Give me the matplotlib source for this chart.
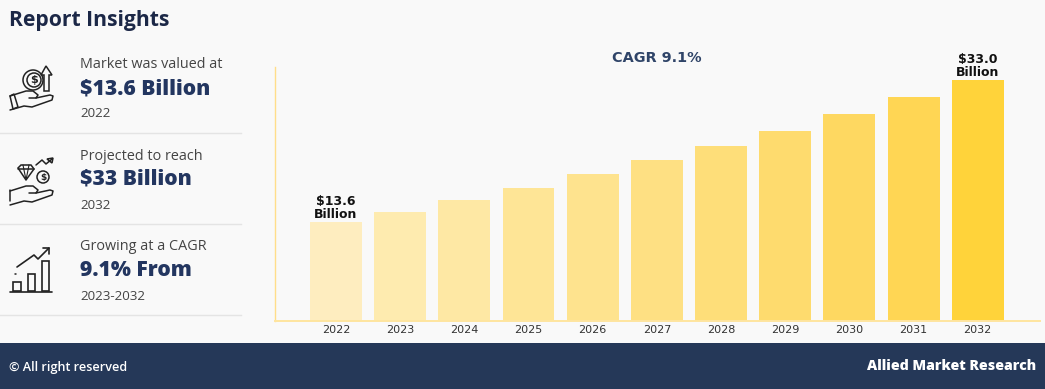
import matplotlib as mpl
mpl.use('Agg')
import matplotlib.pyplot as plt
from matplotlib.patches import Circle, Rectangle, Polygon

years = ['2022', '2023', '2024', '2025', '2026', '2027', '2028', '2029', '2030', '2031', '2032']
values = [13.6, 14.9, 16.6, 18.2, 20.1, 22.1, 24.0, 26.0, 28.4, 30.7, 33.0]
bar_colors = ['#FEEDBF', '#FEEBAF', '#FEE8A4', '#FEE596', '#FEE38E', '#FEE083',
              '#FEDE79', '#FEDB6E', '#FED861', '#FFD654', '#FFD33A']
bar_labels = {0: '$13.6\nBillion', 10: '$33.0\nBillion'}

insight_top = ['Market was valued at', 'Projected to reach', 'Growing at a CAGR']
insight_mid = ['$13.6 Billion', '$33 Billion', '9.1% From']
insight_low = ['2022', '2032', '2023-2032']

BG = '#F9F9F9'
NAVY = '#253858'
UI_FONT = 'Open Sans'

fig = plt.figure(figsize=(10.45, 3.89), dpi=100, facecolor=BG)

# overlay in pixel coords for the panel, footer and icons
ov = fig.add_axes([0, 0, 1, 1])
ov.set_xlim(0, 1045)
ov.set_ylim(389, 0)
ov.axis('off')

ov.add_patch(Rectangle((0, 343), 1045, 46, color=NAVY, lw=0))
ov.text(9, 367, '\u00a9 All right reserved', color='white', fontsize=9.1, family=UI_FONT,
        weight='semibold', va='center')
ov.text(1036, 366, 'Allied Market Research', color='white', fontsize=10.2, family=UI_FONT,
        weight='extra bold', va='center', ha='right')

ov.text(9, 20, 'Report Insights', color='#1C2847', fontsize=15.2, family=UI_FONT,
        weight='bold', va='center')

rows_y = [(64, 89, 113), (156, 179, 205), (246, 271, 296)]
for i in range(3):
    y1, y2, y3 = rows_y[i]
    ov.text(80, y1, insight_top[i], color='#444444', fontsize=10.4, family=UI_FONT, va='center')
    ov.text(80, y2, insight_mid[i], color='#233660', fontsize=15.2, family=UI_FONT,
            weight='extra bold', va='center')
    ov.text(80, y3, insight_low[i], color='#444444', fontsize=9.6, family=UI_FONT, va='center')

for y in [133, 224, 315]:
    ov.plot([0, 241], [y, y], color='#E4E4E4', lw=1)

ic = '#222222'


def line(xs, ys, lw=1.1):
    ov.plot(xs, ys, color=ic, lw=lw, solid_capstyle='round', solid_joinstyle='round')


def hand(dy):
    line([10, 26, 33, 38, 36, 29], [dy + 96, dy + 91, dy + 91, dy + 95, dy + 98, dy + 98])
    line([36, 50, 53, 52, 32, 24, 10], [dy + 98, dy + 95, dy + 96, dy + 100, dy + 107, dy + 106, dy + 110])


# icon 1: coin, arrow and hand
ov.add_patch(Polygon([(10, 96), (14, 94), (18, 107), (13, 109)], fill=False, ec=ic, lw=1.1))
hand(0)
ov.add_patch(Circle((33, 80), 10, fill=False, ec=ic, lw=1.1))
ov.add_patch(Circle((34, 80), 7, fill=False, ec=ic, lw=1.1))
ov.text(34, 80, '$', color=ic, fontsize=8, ha='center', va='center', weight='bold')
ov.add_patch(Polygon([(46, 66), (52, 75), (49, 75), (49, 91), (44, 91), (44, 75), (41, 75)],
                     fill=False, ec=ic, lw=1.1))

# icon 2: diamond, coin, arrow and hand
hand(95)
line([9.5, 9.5], [190, 201])
ov.add_patch(Polygon([(18, 168), (21, 165), (31, 165), (34, 169), (26, 180)], fill=False, ec=ic, lw=1.1))
line([18, 34], [169, 169])
line([23, 26, 29], [165, 180, 165], lw=0.8)
ov.add_patch(Circle((43, 177), 6, fill=False, ec=ic, lw=1.1))
ov.text(43, 177, '$', color=ic, fontsize=6.5, ha='center', va='center', weight='bold')
line([36, 42, 46, 52], [165, 160, 164, 159])
ov.add_patch(Polygon([(53, 158), (47, 159), (52, 163)], fill=False, ec=ic, lw=1.1))

# icon 3: growth bars and arrow
line([10, 52], [291.5, 291.5], lw=1.2)
for x, top, w in [(13, 282, 8), (27.5, 274, 7.5), (42, 261, 7)]:
    ov.add_patch(Rectangle((x, top), w, 291 - top, fill=False, ec=ic, lw=1.2))
line([17, 34, 38, 49], [267, 255, 259, 248], lw=1.2)
line([43, 49, 49], [248, 248, 254], lw=1.2)
line([15, 15.5], [274, 274], lw=1.1)

# bar chart
ax = fig.add_axes([275 / 1045, (389 - 321) / 389, 765 / 1045, 254 / 389])
ax.patch.set_alpha(0)
positions = list(range(len(years)))
ax.bar(positions, values, width=0.81, color=bar_colors, linewidth=0)
ax.set_xlim(-0.95, 10.97)
ax.set_ylim(0, 34.8)
ax.set_xticks(positions)
ax.set_xticklabels(years, fontsize=8, color='#333333')
ax.set_yticks([])
ax.tick_params(axis='x', length=0, pad=3)
for side in ['top', 'right']:
    ax.spines[side].set_visible(False)
ax.spines['left'].set_color('#FFDE8A')
ax.spines['left'].set_linewidth(1.0)
ax.spines['bottom'].set_color('#FFE59F')
ax.spines['bottom'].set_linewidth(1.4)

for i in bar_labels:
    ax.annotate(bar_labels[i], (positions[i], values[i]), xytext=(0, 0.5), textcoords='offset points',
                ha='center', va='bottom', fontsize=9, weight='bold', color='#111111', linespacing=1.05)

ax.text(5, 36.0, 'CAGR 9.1%', fontsize=10.4, weight='bold', color='#2F4468', ha='center', va='center')

fig.savefig('out.png', dpi=100, facecolor=BG)
